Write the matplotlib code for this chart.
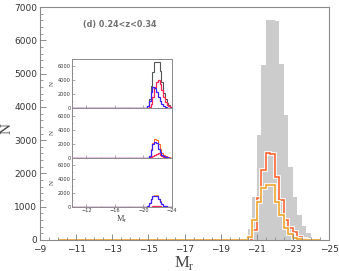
import numpy as np
import matplotlib
matplotlib.use("Agg")
import matplotlib.pyplot as plt
import matplotlib.patheffects as pe
from matplotlib.ticker import MultipleLocator

plt.rcParams['mathtext.fontset'] = 'custom'
plt.rcParams['mathtext.rm'] = 'Liberation Serif'
plt.rcParams['axes.unicode_minus'] = True

# bins: 0.25 mag wide, from -10 to -24.5 (first 40 bins are empty)
edges = np.arange(-10.0, -24.51, -0.25)
n_empty = 40

# main panel (bins from -20.0 to -24.5)
all_gal = [0, 30, 330, 1280, 3150, 5250, 6620, 6620, 6580, 5280, 3750, 2200, 1300, 750, 430, 200, 60, 15]
sample_red = [0, 0, 0, 300, 1250, 2100, 2620, 2580, 1900, 1200, 600, 350, 250, 100, 30, 0, 0, 0]
sample_orange = [0, 0, 100, 600, 1150, 1550, 1650, 1650, 1150, 750, 350, 170, 60, 20, 0, 0, 0, 0]

# inset panels: red / blue split
ins1_red = [0, 0, 20, 150, 700, 1700, 3000, 3800, 4000, 3500, 2600, 1600, 950, 560, 330, 160, 50, 15]
ins1_blue = [0, 30, 300, 1100, 2400, 3000, 2900, 2300, 1600, 1000, 600, 300, 150, 70, 30, 10, 0, 0]
ins2_red = [0, 0, 0, 20, 100, 200, 420, 560, 620, 400, 220, 150, 120, 50, 15, 0, 0, 0]
ins2_blue = [0, 0, 0, 280, 1150, 1900, 2200, 2020, 1280, 800, 380, 200, 130, 50, 15, 0, 0, 0]
ins3_red = [0, 0, 0, 0, 20, 40, 80, 100, 90, 60, 30, 15, 5, 0, 0, 0, 0, 0]
ins3_blue = [0, 0, 100, 600, 1130, 1510, 1570, 1550, 1060, 690, 320, 155, 55, 20, 0, 0, 0, 0]


def full(v):
    return np.concatenate([np.zeros(n_empty), v])


def step(ax, v, **kw):
    y = full(v)
    return ax.stairs(y, edges, **kw)


frame = '#8a8a8a'
txt = '#333333'
c_red = '#ff6633'
c_orange = '#eea42a'

fig = plt.figure(figsize=(3.39, 2.71), dpi=100)
ax = fig.add_axes([0.118, 0.1144, 0.8525, 0.8596])

ax.stairs(full(all_gal), edges, fill=True, color='#cccccc', lw=0)
halo = [pe.Stroke(linewidth=2.6, foreground='white'), pe.Normal()]
step(ax, sample_red, color=c_red, lw=1.2, path_effects=halo)
step(ax, sample_orange, color=c_orange, lw=1.2, path_effects=halo)

ax.set_xlim(-9, -25)
ax.set_ylim(0, 7000)
ax.set_xticks(np.arange(-9, -25.1, -2))
ax.xaxis.set_minor_locator(MultipleLocator(0.5))
ax.set_yticks(np.arange(0, 7001, 1000))
ax.yaxis.set_minor_locator(MultipleLocator(200))
ax.tick_params(which='both', direction='in', color=frame, labelcolor=txt,
               labelsize=6.5, pad=2)
ax.tick_params(axis='x', which='both', pad=3.5)
ax.tick_params(which='major', length=4, width=0.7)
ax.tick_params(which='minor', length=2, width=0.6)
for s in ax.spines.values():
    s.set_color(frame)
    s.set_linewidth(0.8)
ax.set_xlabel(r'$\mathrm{M}_\mathrm{r}$', fontsize=12, color='#444444', labelpad=0)
ax.set_ylabel(r'$\mathrm{N}$', fontsize=11, color='#444444')
ax.yaxis.set_label_coords(-0.09, 0.48)
ax.text(0.149, 0.923, '(d) 0.24<z<0.34', transform=ax.transAxes, fontsize=5.8,
        fontweight='bold', color='#707070', va='center', ha='left')

# inset: three stacked panels
c_ired = '#ff2255'
c_blue = '#3a1fff'
c_iorange = '#ff6a2a'
inset_rows = [
    (ins1_red, ins1_blue, all_gal, '#555555'),
    (ins2_red, ins2_blue, sample_red, c_iorange),
    (ins3_red, ins3_blue, sample_orange, c_orange),
]
left, width = 0.2124, 0.295
top, h = 0.781, 0.1813
for i, (r, b, tot, ctot) in enumerate(inset_rows):
    ia = fig.add_axes([left, top - (i + 1) * h, width, h])
    step(ia, tot, color=ctot, lw=0.8)
    step(ia, r, color=c_ired, lw=0.9)
    step(ia, b, color=c_blue, lw=0.9)
    ia.set_xlim(-10, -24)
    ia.set_ylim(0, 7000)
    ia.set_xticks([-12, -16, -20, -24])
    ia.xaxis.set_minor_locator(MultipleLocator(2))
    ia.set_yticks([0, 2000, 4000, 6000])
    ia.yaxis.set_minor_locator(MultipleLocator(1000))
    ia.tick_params(which='both', direction='in', color=frame, labelcolor=txt,
                   labelsize=3.6, pad=1)
    ia.tick_params(which='major', length=2, width=0.5)
    ia.tick_params(which='minor', length=1, width=0.4)
    for s in ia.spines.values():
        s.set_color(frame)
        s.set_linewidth(0.7)
    ia.set_ylabel(r'$\mathrm{N}$', fontsize=5, color='#444444', labelpad=1)
    if i < 2:
        ia.tick_params(labelbottom=False)
    else:
        ia.set_xlabel(r'$\mathrm{M}_\mathrm{r}$', fontsize=6, color='#444444', labelpad=0)

fig.savefig('out.png', dpi=100)
